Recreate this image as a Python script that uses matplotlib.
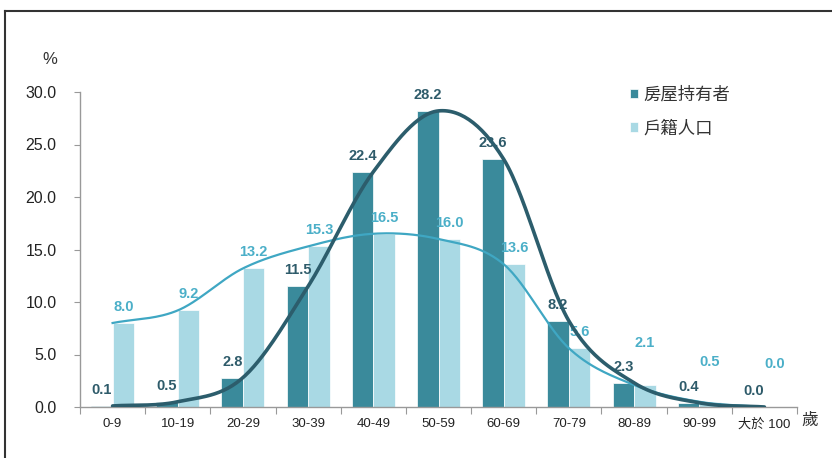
import numpy as np
import matplotlib
matplotlib.use('Agg')
import matplotlib.pyplot as plt
from matplotlib.lines import Line2D

plt.rcParams['font.family'] = ['Liberation Sans', 'Noto Sans CJK TC', 'DejaVu Sans']

# data
ages = ['0-9', '10-19', '20-29', '30-39', '40-49', '50-59', '60-69',
        '70-79', '80-89', '90-99', '大於 100']
owners = [0.1, 0.5, 2.8, 11.5, 22.4, 28.2, 23.6, 8.2, 2.3, 0.4, 0.0]
population = [8.0, 9.2, 13.2, 15.3, 16.5, 16.0, 13.6, 5.6, 2.1, 0.5, 0.0]
# extra lift (in px) for a few light labels that sit higher in the original
pop_lift = [0, 0, 0, 0, 0, 0, 0, 0, 26, 24, 27]

c_dark = '#3A8A9B'
c_light = '#A9D9E4'
c_dline = '#2C5D6C'
c_lline = '#3FA7C3'
c_dtext = '#2E5B6A'
c_ltext = '#4BAFC8'


def smooth(y, n=30):
    # catmull-rom style smoothing, like excel's smoothed line
    y = np.asarray(y, float)
    x = np.arange(len(y), dtype=float)
    p = np.concatenate([[2 * y[0] - y[1]], y, [2 * y[-1] - y[-2]]])
    xs, ys = [], []
    for i in range(len(y) - 1):
        p0, p1, p2, p3 = p[i], p[i + 1], p[i + 2], p[i + 3]
        t = np.linspace(0, 1, n, endpoint=False)
        v = 0.5 * ((2 * p1) + (-p0 + p2) * t + (2 * p0 - 5 * p1 + 4 * p2 - p3) * t ** 2
                   + (-p0 + 3 * p1 - 3 * p2 + p3) * t ** 3)
        xs.append(x[i] + t)
        ys.append(v)
    xs.append([x[-1]])
    ys.append([y[-1]])
    return np.concatenate(xs), np.concatenate(ys)


fig = plt.figure(figsize=(8.32, 4.58), dpi=100)
ax = fig.add_axes([80 / 832, 1 - 407 / 458, 717 / 832, 315 / 458])

x = np.arange(len(ages))
w = 0.33
ax.bar(x - w / 2, owners, w, color=c_dark, edgecolor='white', linewidth=0.5,
       label='房屋持有者', zorder=2)
ax.bar(x + w / 2, population, w, color=c_light, edgecolor='white', linewidth=0.5,
       label='戶籍人口', zorder=2)

sx, sy = smooth(population)
ax.plot(sx, sy, color=c_lline, lw=1.6, zorder=4)
sx, sy = smooth(owners)
ax.plot(sx, sy, color=c_dline, lw=2.6, zorder=5, solid_capstyle='round')

for i, v in enumerate(owners):
    ax.annotate(f'{v:.1f}', (x[i] - w / 2, v), xytext=(0, 16), textcoords='offset pixels',
                ha='center', va='center', fontsize=10.5, fontweight='bold',
                color=c_dtext, zorder=3)
for i, v in enumerate(population):
    ax.annotate(f'{v:.1f}', (x[i] + w / 2, v), xytext=(0, 16 + pop_lift[i]),
                textcoords='offset pixels', ha='center', va='center', fontsize=10.5,
                fontweight='bold', color=c_ltext, zorder=3)

ax.set_xlim(-0.5, len(ages) - 0.5)
ax.set_ylim(0, 30)
ax.set_yticks(np.arange(0, 31, 5))
ax.set_yticklabels([f'{t:.1f}' for t in np.arange(0, 31, 5)], fontsize=11.5, color='#222222')
ax.set_xticks(np.arange(-0.5, len(ages), 1))
ax.set_xticklabels([])
ax.set_xticks(x, minor=True)
ax.set_xticklabels(ages, minor=True, fontsize=9.5, color='#222222',
                   family=['Liberation Sans Narrow', 'Liberation Sans', 'Noto Sans CJK TC'])
ax.tick_params(axis='x', which='minor', length=0, pad=8)
ax.tick_params(axis='x', which='major', length=5, color='#999999', direction='out')
ax.tick_params(axis='y', length=4, color='#999999', pad=13)
for s in ['top', 'right']:
    ax.spines[s].set_visible(False)
for s in ['left', 'bottom']:
    ax.spines[s].set_color('#999999')
    ax.spines[s].set_linewidth(1.0)

fig.text(50 / 832, 1 - 60 / 458, '%', fontsize=12, color='#333333', ha='center', va='center')
fig.text(810 / 832, 1 - 420 / 458, '歲', fontsize=12, color='#333333', ha='center',
         va='center', family=['Noto Sans CJK TC'])

leg = ax.legend(loc='upper left', bbox_to_anchor=(614 / 832, 1 - 70 / 458),
                bbox_transform=fig.transFigure, frameon=False,
                handlelength=0.5, handleheight=0.5, handletextpad=0.3, labelspacing=0.9,
                prop={'family': ['Noto Sans CJK TC'], 'size': 12.5})
for t in leg.get_texts():
    t.set_color('#333333')

# outer frame of the original picture (left and top edges visible)
fig.add_artist(Line2D([5 / 832, 5 / 832], [-0.1, 1 - 11 / 458], color='#333333', lw=1.5,
                      transform=fig.transFigure))
fig.add_artist(Line2D([5 / 832, 1.1], [1 - 11 / 458, 1 - 11 / 458], color='#333333', lw=1.5,
                      transform=fig.transFigure))

fig.savefig('out.png', dpi=100)
